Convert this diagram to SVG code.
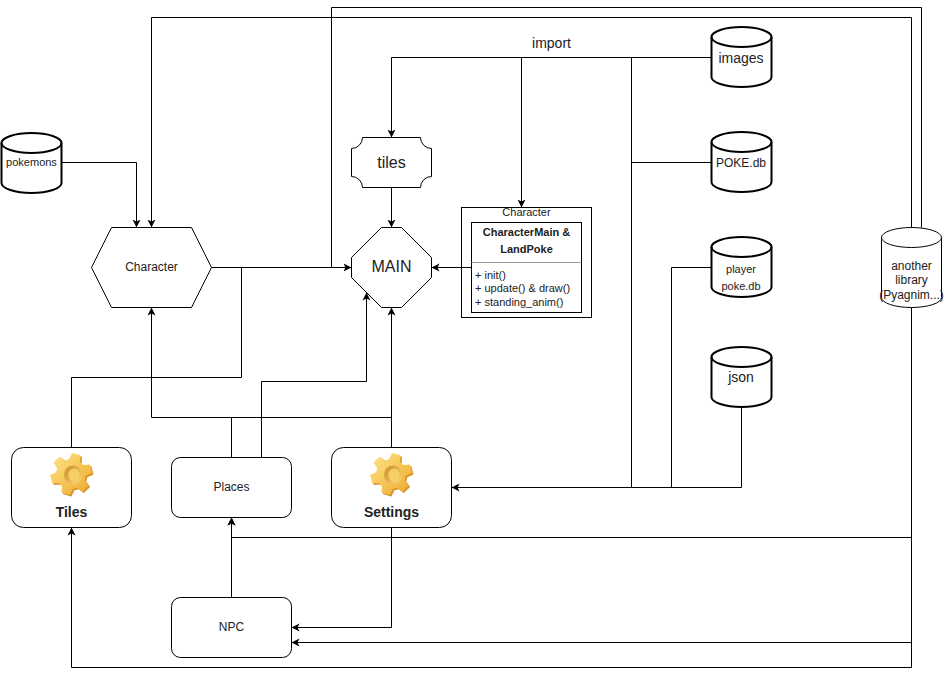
<svg xmlns="http://www.w3.org/2000/svg" width="944" height="676" viewBox="0 0 944 676">
<style>
text{font-family:"Liberation Sans",Arial,sans-serif;fill:#222;text-anchor:middle}
.s{fill:#fff;stroke:#000;stroke-width:1}
.d{fill:#fff;stroke:#000;stroke-width:2}
.n{fill:none;stroke:#000;stroke-width:1}
.e{fill:none;stroke:#000;stroke-width:2}
.c{fill:none;stroke:#000;stroke-width:1;marker-end:url(#a)}
.t11{font-size:11px}.t12{font-size:12px}.t14{font-size:14px}.t16{font-size:16px}
.b{font-weight:bold}
.l{text-anchor:start}
</style>
<defs>
<marker id="a" markerUnits="userSpaceOnUse" markerWidth="10" markerHeight="10" refX="8" refY="5" orient="auto"><path d="M0 1L8 5L0 9L2 5Z" fill="#000"/></marker>
<linearGradient id="g" x1="0" y1="0" x2="1" y2="1"><stop offset="0" stop-color="#fde390"/><stop offset=".55" stop-color="#f7c552"/><stop offset="1" stop-color="#e8a62e"/></linearGradient>
<linearGradient id="h" x1="0" y1="0" x2="1" y2="1"><stop offset="0" stop-color="#c98a22"/><stop offset="1" stop-color="#fbdc80"/></linearGradient>
<path id="teeth" d="M-1.800 -14.900L1.100 -21L9.500 -18.700L9 -12L12 -9L18.700 -9.500L21 -1.100L14.900 1.800L13.800 5.900L17.600 11.400L11.400 17.600L5.900 13.800L1.800 14.900L-1.100 21L-9.500 18.700L-9 12L-12 9L-18.700 9.500L-21 1.100L-14.900 -1.800L-13.800 -5.900L-17.600 -11.400L-11.400 -17.600L-5.900 -13.800Z"/>
<g id="gear">
<use href="#teeth" x="1.500" y="1.500" fill="#d8952a"/>
<use href="#teeth" fill="url(#g)"/>
<ellipse cx="2" cy="1" rx="9" ry="9.500" fill="url(#h)"/>
<ellipse cx="3" cy="1" rx="5.500" ry="6.500" fill="#f8cf66"/>
</g>
</defs>
<g id="pokemons"><path class="d" d="M1.500 143A30 10 0 0 1 61.500 143V183A30 10 0 0 1 1.500 183Z"/><path class="e" d="M1.500 143A30 10 0 0 0 61.500 143"/><text class="t11" x="31.500" y="166">pokemons</text></g>
<g id="character-hex"><path class="s" d="M91.500 267.500L111.500 227.500H191.500L211.500 267.500L191.500 307.500H111.500Z"/><text class="t12" x="151.500" y="271">Character</text></g>
<g id="tiles-plaque"><path class="s" d="M362.500 137.500H420.500A11 11 0 0 0 431.500 148.500V176.500A11 11 0 0 0 420.500 187.500H362.500A11 11 0 0 0 351.500 176.500V148.500A11 11 0 0 0 362.500 137.500Z"/><text class="t16" x="391.500" y="168">tiles</text></g>
<g id="main"><path class="s" d="M381.500 227.500H401.500L431.500 257.500V277.500L401.500 307.500H381.500L351.500 277.500V257.500Z"/><text class="t16" x="391.500" y="272">MAIN</text></g>
<g id="character-class"><rect class="s" x="461.500" y="207.500" width="130" height="110"/><text class="t11" x="526.500" y="216">Character</text><rect class="s" x="471.500" y="222.500" width="110" height="90"/><path d="M471.500 262.500H581.500" stroke="#999" fill="none"/><text class="t11 b" x="526.500" y="236">CharacterMain &amp;</text><text class="t11 b" x="526.500" y="253">LandPoke</text><text class="t11 l" x="475" y="279">+ init()</text><text class="t11 l" x="475" y="292">+ update() &amp; draw()</text><text class="t11 l" x="475" y="306">+ standing_anim()</text></g>
<g id="images"><path class="d" d="M711.500 37A30 10 0 0 1 771.500 37V77A30 10 0 0 1 711.500 77Z"/><path class="e" d="M711.500 37A30 10 0 0 0 771.500 37"/><text class="t14" x="741" y="63">images</text></g>
<g id="poke-db"><path class="d" d="M711.500 142A30 10 0 0 1 771.500 142V182A30 10 0 0 1 711.500 182Z"/><path class="e" d="M711.500 142A30 10 0 0 0 771.500 142"/><text class="t12" x="741" y="167">POKE.db</text></g>
<g id="player-poke"><path class="d" d="M711.500 247A30 10 0 0 1 771.500 247V287A30 10 0 0 1 711.500 287Z"/><path class="e" d="M711.500 247A30 10 0 0 0 771.500 247"/><text class="t11" x="741" y="273">player</text><text class="t11" x="741" y="290">poke.db</text></g>
<g id="json"><path class="d" d="M711.500 357A30 10 0 0 1 771.500 357V397A30 10 0 0 1 711.500 397Z"/><path class="e" d="M711.500 357A30 10 0 0 0 771.500 357"/><text class="t14" x="741" y="382">json</text></g>
<g id="library"><path class="s" d="M881.500 237.500A30 10 0 0 1 941.500 237.500V297.500A30 10 0 0 1 881.500 297.500Z"/><path class="n" d="M881.500 237.500A30 10 0 0 0 941.500 237.500"/><text class="t12" x="911.500" y="270">another</text><text class="t12" x="911.500" y="284">library</text><text class="t12" x="911.500" y="299">(Pyagnim...)</text></g>
<g id="tiles"><rect class="s" x="11.500" y="447.500" width="120" height="80" rx="12"/><use href="#gear" x="71" y="474"/><text class="t14 b" x="71.500" y="517">Tiles</text></g>
<g id="places"><rect class="s" x="171.500" y="457.500" width="120" height="60" rx="9"/><text class="t12" x="231.500" y="491">Places</text></g>
<g id="settings"><rect class="s" x="331.500" y="447.500" width="120" height="80" rx="12"/><use href="#gear" x="391" y="474"/><text class="t14 b" x="391.500" y="517">Settings</text></g>
<g id="npc"><rect class="s" x="171.500" y="597.500" width="120" height="60" rx="9"/><text class="t12" x="231.500" y="631">NPC</text></g>
<g id="connectors" transform="translate(.5 .5)">
<path class="n" d="M331 267V7H921V227"/>
<path class="c" d="M911 227V17H151V227"/>
<path class="c" d="M61 162H136V227"/>
<path class="c" d="M211 267H351"/>
<path class="c" d="M911 307V667H71V527"/>
<path class="c" d="M911 537H231V517"/>
<path class="c" d="M231 597V517"/>
<path class="c" d="M911 642H291"/>
<path class="c" d="M391 527V627H291"/>
<path class="c" d="M391 447V307"/>
<path class="c" d="M391 417H151V307"/>
<path class="n" d="M231 457V417"/>
<path class="c" d="M261 457V381H366V292"/>
<path class="n" d="M71 447V377H241V267"/>
<path class="c" d="M711 57H391V137"/>
<path class="c" d="M521 57V207"/>
<path class="c" d="M631 57V487H451"/>
<path class="n" d="M711 162H631"/>
<path class="n" d="M711 267H671V487"/>
<path class="n" d="M741 407V487H631"/>
<path class="c" d="M391 187V227"/>
<path class="c" d="M471 267H431"/>
<text class="t14" x="551" y="47">import</text>
</g>
</svg>
